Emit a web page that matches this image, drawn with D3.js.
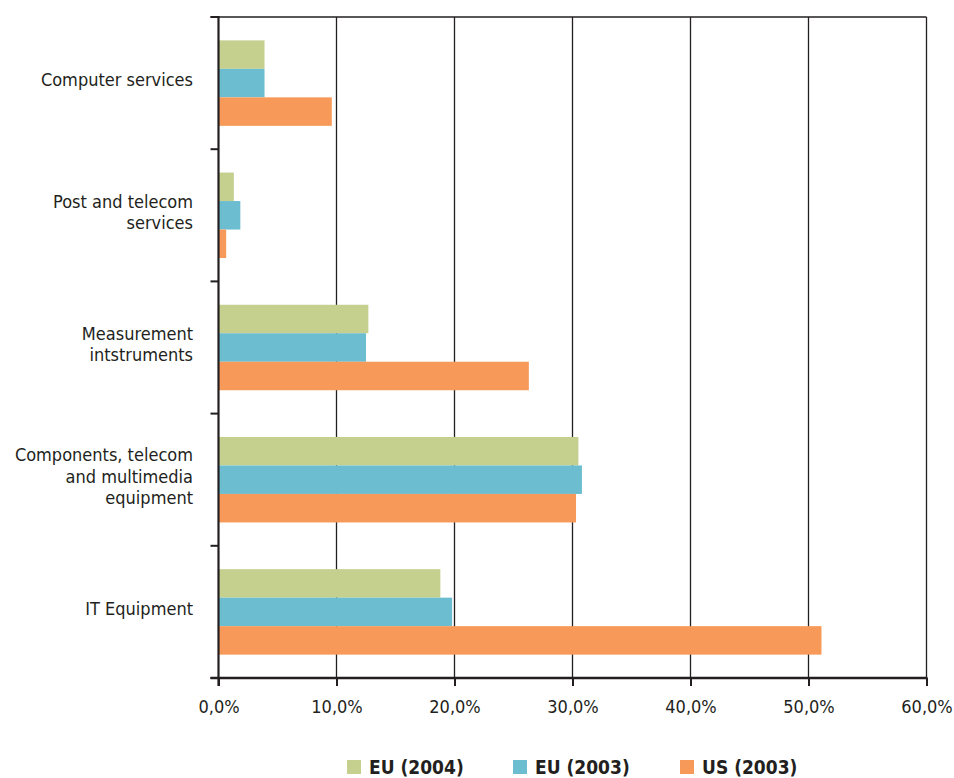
<!DOCTYPE html>
<html>
<head>
<meta charset="utf-8">
<script src="https://cdn.jsdelivr.net/npm/d3@7/dist/d3.min.js"></script>
<style>
  html, body { margin: 0; padding: 0; background: #fff; }
  svg { display: block; }
  .cat, .tick-label { font-family: "DejaVu Sans Condensed", "Liberation Sans Narrow", "Liberation Sans", sans-serif; fill: #231f20; }
  .legend-text { font-family: "DejaVu Sans Condensed", "Liberation Sans Narrow", sans-serif; font-weight: bold; fill: #231f20; }
</style>
</head>
<body>
<script>
// Share of ICT R&D by sector, EU vs US (%)
const categories = [
  ["Computer services"],
  ["Post and telecom", "services"],
  ["Measurement", "intstruments"],
  ["Components, telecom", "and multimedia", "equipment"],
  ["IT Equipment"]
];
const categoryKeys = ["Computer services", "Post and telecom services", "Measurement intstruments", "Components, telecom and multimedia equipment", "IT Equipment"];
const seriesNames = ["EU (2004)", "EU (2003)", "US (2003)"];
const seriesColors = ["#c6d08e", "#6dbdd1", "#f79a59"];
const eu2004 = [3.9, 1.3, 12.7, 30.5, 18.8];
const eu2003 = [3.9, 1.85, 12.5, 30.8, 19.8];
const us2003 = [9.6, 0.65, 26.3, 30.3, 51.1];
const xTicks = [0, 10, 20, 30, 40, 50, 60];
const tickLabels = ["0,0%", "10,0%", "20,0%", "30,0%", "40,0%", "50,0%", "60,0%"];

const W = 954, H = 778;
const plotL = 218.5, plotR = 926.5, plotT = 17, plotB = 678;
const ink = "#231f20";

const svg = d3.select("body").append("svg").attr("width", W).attr("height", H);

const x = d3.scaleLinear().domain([0, 60]).range([plotL, plotR]);
const y0 = d3.scaleBand().domain(categoryKeys).range([plotT, plotB]).padding(0);
const y1 = d3.scaleBand().domain(seriesNames).range([0, y0.bandwidth()]).paddingInner(0).paddingOuter(0.82);

const seriesValues = [eu2004, eu2003, us2003];

// vertical gridlines
svg.append("g").selectAll("line").data(xTicks.slice(1)).join("line")
  .attr("x1", d => x(d)).attr("x2", d => x(d))
  .attr("y1", plotT).attr("y2", plotB)
  .attr("stroke", ink).attr("stroke-width", 1.3);

// top border
svg.append("line").attr("x1", plotL - 8).attr("x2", plotR).attr("y1", plotT).attr("y2", plotT)
  .attr("stroke", ink).attr("stroke-width", 1.3);

// bars
const groups = svg.append("g").selectAll("g").data(categoryKeys).join("g")
  .attr("transform", d => `translate(0,${y0(d)})`);
groups.selectAll("rect").data((d, i) => seriesNames.map((s, j) => ({ s, j, v: seriesValues[j][i] }))).join("rect")
  .attr("x", x(0) + 0.5)
  .attr("y", d => y1(d.s))
  .attr("width", d => x(d.v) - x(0) - 0.5)
  .attr("height", y1.bandwidth())
  .attr("fill", d => seriesColors[d.j]);

// left axis with category boundary ticks
const boundaries = categoryKeys.map(k => y0(k)).concat([plotB]);
svg.append("line").attr("x1", plotL).attr("x2", plotL).attr("y1", plotT - 1).attr("y2", plotB + 8)
  .attr("stroke", ink).attr("stroke-width", 2.2);
svg.append("g").selectAll("line").data(boundaries).join("line")
  .attr("x1", plotL - 8).attr("x2", plotL).attr("y1", d => d).attr("y2", d => d)
  .attr("stroke", ink).attr("stroke-width", 2);

// bottom axis
const xAxis = d3.axisBottom(x).tickValues(xTicks).tickFormat((d, i) => tickLabels[i]).tickSize(8).tickPadding(14);
const gx = svg.append("g").attr("transform", `translate(0,${plotB})`).call(xAxis);
gx.select(".domain").remove();
gx.selectAll(".tick line").attr("stroke", ink).attr("stroke-width", 2);
gx.selectAll(".tick text").attr("class", "tick-label").attr("font-size", 18).attr("fill", ink)
  .style("font-family", "'DejaVu Sans Condensed', 'Liberation Sans Narrow', sans-serif");
svg.append("line").attr("x1", plotL - 8).attr("x2", plotR + 1).attr("y1", plotB).attr("y2", plotB)
  .attr("stroke", ink).attr("stroke-width", 2.4);

// category labels
const labelX = 193, lineH = 21.5;
svg.append("g").selectAll("text").data(categories).join("text")
  .attr("class", "cat")
  .attr("text-anchor", "end")
  .attr("font-size", 18)
  .attr("transform", (d, i) => {
    const c = y0(categoryKeys[i]) + y0.bandwidth() / 2 - 3;
    return `translate(${labelX},${c - (d.length - 1) * lineH / 2 + 6})`;
  })
  .each(function(d) {
    d3.select(this).selectAll("tspan").data(d).join("tspan")
      .attr("x", 0).attr("dy", (t, k) => k === 0 ? 0 : lineH).text(t => t);
  });

// legend
const legendX = [347, 513, 680];
const lg = svg.append("g").selectAll("g").data(seriesNames).join("g")
  .attr("transform", (d, i) => `translate(${legendX[i]},760)`);
lg.append("rect").attr("width", 14).attr("height", 14).attr("fill", (d, i) => seriesColors[i]);
lg.append("text").attr("class", "legend-text").attr("x", 22).attr("y", 14).attr("font-size", 19).text(d => d);
</script>
</body>
</html>
